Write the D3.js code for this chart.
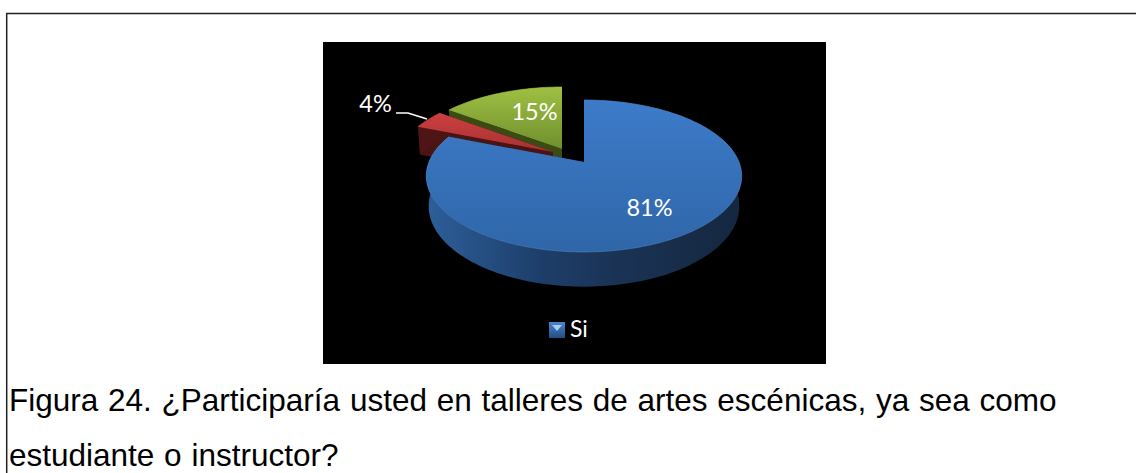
<!DOCTYPE html>
<html>
<head>
<meta charset="utf-8">
<style>
html, body { margin: 0; padding: 0; background: #fff; overflow: hidden; }
</style>
<script src="https://cdn.jsdelivr.net/npm/d3@7"></script>
</head>
<body>
<div id="chart-area"></div>
<script>
// datos
var categories = ["Si", "No", "Tal vez"];
var values = [81, 4, 15];
var legendItems = ["Si"];
var captionLines = [
	"Figura 24. ¿Participaría usted en talleres de artes escénicas, ya sea como",
	"estudiante o instructor?"
];

var svg = d3.select("#chart-area")
			.append("svg")
			.attr("width", 1136)
			.attr("height", 473)
			.style("display", "block");

var defs = svg.append("defs");

function addGradient(id, x2, y2, stops){
	var g = defs.append("linearGradient")
				.attr("id", id)
				.attr("x1", 0).attr("y1", 0)
				.attr("x2", x2).attr("y2", y2);
	stops.forEach(function(s){
		g.append("stop").attr("offset", s[0]).attr("stop-color", s[1]);
	});
}

addGradient("topBlue", 0, 1, [[0, "#3d7bc9"], [1, "#2f66a8"]]);
addGradient("sideBlue", 1, 0, [[0, "#2d5f9a"], [0.35, "#1e3f6b"], [0.6, "#1a3355"], [1, "#15273f"]]);
addGradient("topRed", 0, 1, [[0, "#cc4040"], [1, "#a83032"]]);
addGradient("topGreen", 0, 1, [[0, "#9fc043"], [1, "#6f8f2d"]]);
addGradient("legendBlue", 0, 1, [[0, "#4a86d0"], [1, "#234d80"]]);

// marco: solo arriba y a la izquierda
svg.append("path")
	.attr("d", "M6.7,473L6.7,13.5L1136,13.5")
	.attr("fill", "none")
	.attr("stroke", "#222")
	.attr("stroke-width", 1.5);

svg.append("rect")
	.attr("x", 323).attr("y", 42)
	.attr("width", 503).attr("height", 322)
	.attr("fill", "#000");

// proyeccion en perspectiva del disco
var rx = 155, ry = 73.4, persp = 0.184, depth = 29.4, shrink = 0.985;

function project(a, offset, bottom){
	var w = 1 + persp * Math.cos(a);
	var s = bottom ? shrink : 1;
	return [
		offset[0] + s * rx * Math.sin(a) / w,
		offset[1] - s * ry * Math.cos(a) / w + (bottom ? depth / w : 0)
	];
}

function apex(offset, bottom){
	return [offset[0], offset[1] + (bottom ? depth : 0)];
}

var line = d3.line();

function arcPoints(d, offset, bottom){
	var n = Math.max(2, Math.ceil((d.endAngle - d.startAngle) * 40));
	return d3.range(n + 1).map(function(i){
		return project(d.startAngle + (d.endAngle - d.startAngle) * i / n, offset, bottom);
	});
}

var pie = d3.pie().sort(null);
var slices = pie(values);

var styles = [
	{ offset: [584, 162], top: "url(#topBlue)", side: "url(#sideBlue)", cut: "#1e3f6b", rim: "#4f88cf" },
	{ offset: [553, 152], top: "url(#topRed)", side: "#4f1516", cut: "#4a1314", rim: "#c44344" },
	{ offset: [562, 149], top: "url(#topGreen)", side: "#3c4a14", cut: "#3c4a14", rim: "#9fc043" }
];

// de atras hacia adelante: verde, rojo, azul
var order = [2, 1, 0];
var chart = svg.append("g");

order.forEach(function(i){
	var d = slices[i];
	var st = styles[i];
	var g = chart.append("g").attr("class", "slice " + categories[i]);

	// caras de corte
	[d.startAngle, d.endAngle].forEach(function(a){
		g.append("path")
			.attr("d", line([
				apex(st.offset, false),
				project(a, st.offset, false),
				project(a, st.offset, true),
				apex(st.offset, true)
			]) + "Z")
			.attr("fill", st.cut);
	});

	// pared exterior
	var wall = arcPoints(d, st.offset, false).concat(arcPoints(d, st.offset, true).reverse());
	g.append("path")
		.attr("d", line(wall) + "Z")
		.attr("fill", st.side);

	// cara superior
	var topFace = [apex(st.offset, false)].concat(arcPoints(d, st.offset, false));
	g.append("path")
		.attr("d", line(topFace) + "Z")
		.attr("fill", st.top);

	// brillo del borde
	g.append("path")
		.attr("d", line(arcPoints(d, st.offset, false)))
		.attr("fill", "none")
		.attr("stroke", st.rim)
		.attr("stroke-width", 1)
		.attr("stroke-opacity", 0.6);
});

// etiquetas
var labelFont = "Lato, 'Open Sans', sans-serif";
var labelPos = [[375.5, 112], [534.5, 120], [649.5, 216]];
var labelOrder = [1, 2, 0];

svg.selectAll("text.pct")
	.data(labelOrder)
	.enter()
	.append("text")
	.attr("class", "pct")
	.attr("x", function(d, i){ return labelPos[i][0]; })
	.attr("y", function(d, i){ return labelPos[i][1]; })
	.attr("text-anchor", "middle")
	.attr("font-family", labelFont)
	.attr("font-size", 23.5)
	.attr("fill", "#fff")
	.text(function(d){ return values[d] + "%"; });

// linea guia del 4%
svg.append("path")
	.attr("d", "M396,113L408,113L427,119")
	.attr("fill", "none")
	.attr("stroke", "#fff")
	.attr("stroke-width", 1.5);

// leyenda
var legend = svg.selectAll("g.legend")
	.data(legendItems)
	.enter()
	.append("g")
	.attr("class", "legend");

legend.append("rect")
	.attr("x", 549).attr("y", 322)
	.attr("width", 16).attr("height", 16)
	.attr("fill", "url(#legendBlue)");

legend.append("path")
	.attr("d", "M552,325L562,325L557,331Z")
	.attr("fill", "#a9cdf2");

legend.append("text")
	.attr("x", 570).attr("y", 337)
	.attr("font-family", labelFont)
	.attr("font-size", 23)
	.attr("fill", "#fff")
	.text(function(d){ return d; });

// pie de figura
var captionY = [411, 466];

svg.selectAll("text.caption")
	.data(captionLines)
	.enter()
	.append("text")
	.attr("class", "caption")
	.attr("x", 9)
	.attr("y", function(d, i){ return captionY[i]; })
	.attr("font-family", "'Liberation Sans', Arial, sans-serif")
	.attr("font-size", 31.5)
	.attr("word-spacing", 1)
	.attr("fill", "#000")
	.text(function(d){ return d; });
</script>
</body>
</html>
